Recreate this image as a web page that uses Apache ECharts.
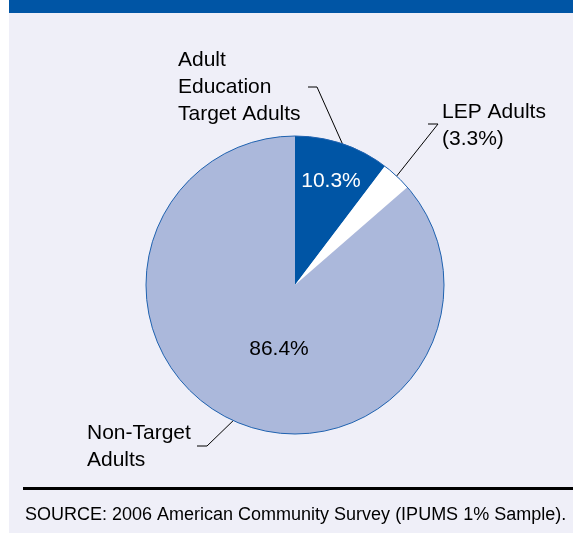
<!DOCTYPE html>
<html>
<head>
<meta charset="utf-8">
<script src="https://cdn.jsdelivr.net/npm/echarts@6/dist/echarts.min.js"></script>
<style>
  html, body { margin: 0; padding: 0; background: #ffffff; }
  #chart { width: 573px; height: 533px; }
</style>
</head>
<body>
<div id="chart"></div>
<script>
// Adult population shares, 2006
const sliceNames = ['Adult\nEducation\nTarget Adults', 'LEP Adults', 'Non-Target\nAdults'];
const sliceValues = [10.3, 3.3, 86.4];
const sliceColors = ['#0055a5', '#ffffff', '#abb8db'];
const sourceNote = 'SOURCE: 2006 American Community Survey (IPUMS 1% Sample).';

const FONT = '"Liberation Sans", Arial, Helvetica, sans-serif';
const CENTER = [295, 285];
const RADIUS = 149;

// where each name label sits and the elbow of its leader line
const nameLabelPlace = [
  { x: 178, y: 47, elbow: [[317, 87], [308, 87]] },
  { x: 442, y: 99, elbow: [[438, 124], [428, 124]] },
  { x: 87, y: 420, elbow: [[207, 446], [197, 446]] }
];
// centre points of the in-slice percentage labels
const pctLabelPlace = [[331, 181], null, [279, 349]];

const total = sliceValues.reduce((a, b) => a + b, 0);

// point on the rim at the middle of slice i (clockwise from 12 o'clock)
function rimPoint(i) {
  let before = 0;
  for (let k = 0; k < i; k++) before += sliceValues[k];
  const mid = (before + sliceValues[i] / 2) / total * Math.PI * 2;
  return [CENTER[0] + RADIUS * Math.sin(mid), CENTER[1] - RADIUS * Math.cos(mid)];
}

const pieData = sliceNames.map((n, i) => ({
  name: n,
  value: sliceValues[i],
  itemStyle: { color: sliceColors[i] }
}));

const chart = echarts.init(document.getElementById('chart'), null, { renderer: 'canvas' });

chart.setOption({
  backgroundColor: '#ffffff',
  animation: false,
  graphic: [
    { type: 'rect', shape: { x: 9, y: 0, width: 564, height: 533 }, style: { fill: '#efeff8' }, z: -10 },
    { type: 'rect', shape: { x: 9, y: 0, width: 564, height: 13 }, style: { fill: '#0055a5' }, z: -9 },
    { type: 'rect', shape: { x: 23, y: 487, width: 550, height: 3 }, style: { fill: '#000000' }, z: -9 },
    {
      type: 'text', left: 25, top: 506, z: 5,
      style: { text: sourceNote, font: '18px ' + FONT, fill: '#000000' }
    }
  ],
  series: [
    {
      // slices, with the outside name labels and leader lines
      type: 'pie',
      center: CENTER,
      radius: RADIUS,
      startAngle: 90,
      clockwise: true,
      silent: true,
      data: pieData,
      itemStyle: { borderWidth: 0 },
      label: {
        show: true,
        position: 'outside',
        color: '#000000',
        fontFamily: FONT,
        fontSize: 21,
        lineHeight: 27,
        overflow: 'none',
        formatter: p => p.dataIndex === 1 ? p.name + '\n(' + p.value + '%)' : p.name
      },
      labelLine: { show: true, lineStyle: { color: '#000000', width: 1 } },
      labelLayout: p => {
        const place = nameLabelPlace[p.dataIndex];
        return {
          x: place.x, y: place.y, align: 'left', verticalAlign: 'top',
          width: 200,
          labelLinePoints: [rimPoint(p.dataIndex), place.elbow[0], place.elbow[1]]
        };
      }
    },
    {
      // percentage labels inside the slices
      type: 'pie',
      center: CENTER,
      radius: RADIUS,
      startAngle: 90,
      clockwise: true,
      silent: true,
      data: pieData.map((d, i) => ({
        name: d.name, value: d.value,
        label: { color: i === 0 ? '#ffffff' : '#000000' }
      })),
      itemStyle: { color: 'rgba(0,0,0,0)' },
      label: {
        show: true,
        position: 'inside',
        fontFamily: FONT,
        fontSize: 21,
        formatter: p => p.dataIndex === 1 ? '' : p.value + '%'
      },
      labelLine: { show: false },
      labelLayout: p => {
        const c = pctLabelPlace[p.dataIndex];
        if (!c) return { x: -100, y: -100 };
        return { x: c[0], y: c[1], align: 'center', verticalAlign: 'middle' };
      },
      emphasis: { disabled: true }
    },
    {
      // outer rim of the pie
      type: 'pie',
      center: CENTER,
      radius: RADIUS,
      silent: true,
      data: [{ value: total, name: 'rim' }],
      itemStyle: { color: 'rgba(0,0,0,0)', borderColor: '#1f62b0', borderWidth: 1 },
      label: { show: false },
      labelLine: { show: false }
    }
  ]
});
</script>
</body>
</html>
